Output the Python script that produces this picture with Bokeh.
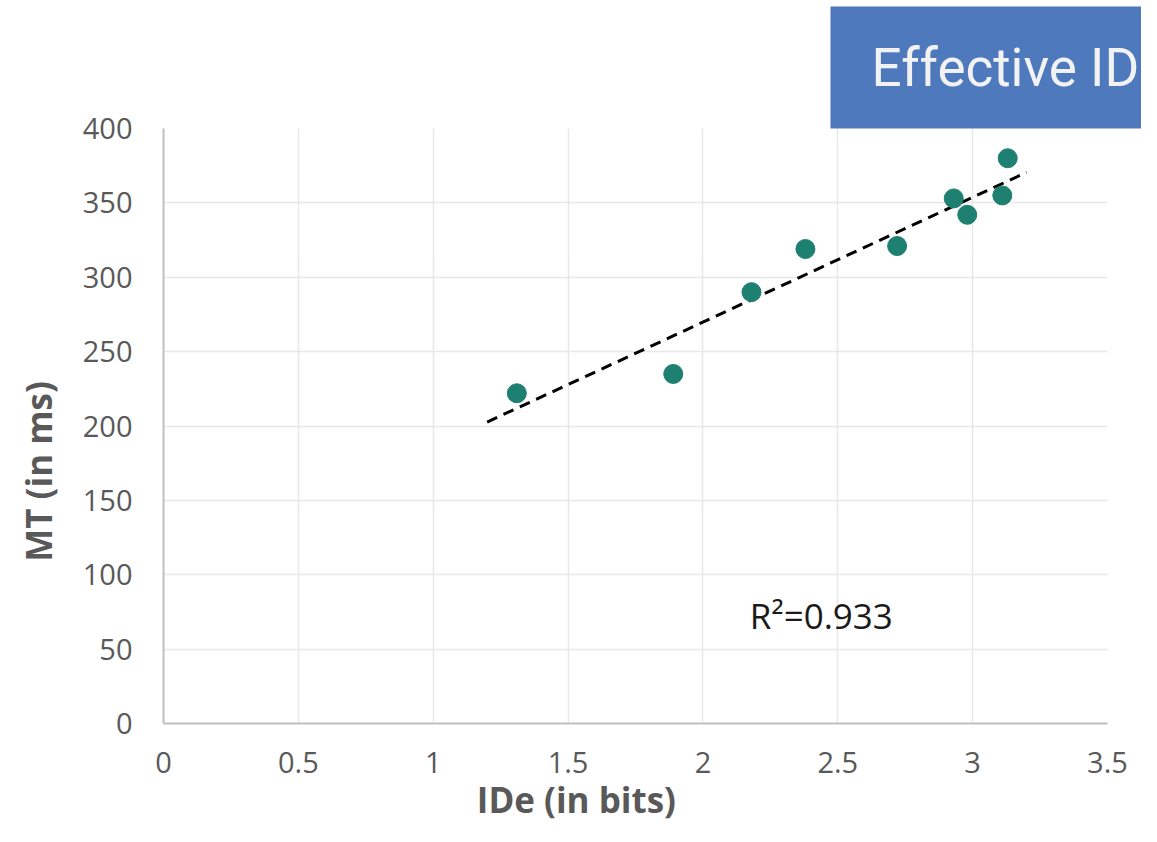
import numpy as np
from bokeh.plotting import figure
from bokeh.models import Range1d, Label, FixedTicker, Title
from bokeh.embed import file_html
from bokeh.resources import INLINE

# Data
ide_bits = [1.31, 1.89, 2.18, 2.38, 2.72, 2.93, 2.98, 3.11, 3.13]
mt_ms = [222, 235, 290, 319, 321, 353, 342, 355, 380]
trend_x = [1.2, 3.2]
x_ticks = [0, 0.5, 1, 1.5, 2, 2.5, 3, 3.5]
y_ticks = [0, 50, 100, 150, 200, 250, 300, 350, 400]
x_tick_labels = {0: "0", 0.5: "0.5", 1: "1", 1.5: "1.5", 2: "2", 2.5: "2.5", 3: "3", 3.5: "3.5"}
r2_text = "R\u00b2=0.933"
title_text = "Effective IDs"
x_title = "IDe (in bits)"
y_title = "MT (in ms)"

slope, intercept = np.polyfit(ide_bits, mt_ms, 1)
trend_y = [slope * v + intercept for v in trend_x]

FONT = "Open Sans"
GRAY = "#595959"
BLUE = "#4f79bd"
NB = "\u00a0"

p = figure(width=1141, height=826, output_backend="svg", toolbar_location=None,
           x_range=Range1d(0, 3.5), y_range=Range1d(0, 400),
           min_border_left=163, min_border_right=34, min_border_top=128,
           min_border_bottom=103)
p.outline_line_color = None
p.background_fill_color = "white"

p.xaxis.ticker = FixedTicker(ticks=x_ticks)
p.yaxis.ticker = FixedTicker(ticks=y_ticks)
p.xaxis.major_label_overrides = x_tick_labels
for ax in (p.xaxis, p.yaxis):
    ax.axis_line_color = "#bfbfbf"
    ax.axis_line_width = 2
    ax.major_tick_line_color = None
    ax.minor_tick_line_color = None
    ax.major_label_text_font = FONT
    ax.major_label_text_font_size = "29px"
    ax.major_label_text_color = GRAY
    ax.major_label_text_line_height = 1.0
    ax.axis_label_text_font = FONT
    ax.axis_label_text_font_size = "35px"
    ax.axis_label_text_font_style = "bold"
    ax.axis_label_text_color = GRAY
    ax.axis_label_text_line_height = 1.0
p.xaxis.major_label_standoff = 22
p.yaxis.major_label_standoff = 25
p.xaxis.axis_label = x_title + NB * 13
p.yaxis.axis_label = y_title + NB * 10
p.xaxis.axis_label_standoff = 0
p.yaxis.axis_label_standoff = 18

p.xgrid.ticker = FixedTicker(ticks=x_ticks)
p.ygrid.ticker = FixedTicker(ticks=y_ticks)
p.grid.grid_line_color = "#e8e8e8"
p.grid.grid_line_width = 1.5

p.line(trend_x, trend_y, line_color="black", line_width=3, line_dash="11 7")
p.scatter(ide_bits, mt_ms, size=19, fill_color="#1d8070", line_color="#1d8070")

p.add_layout(Label(x=2.174, y=72.5, text=r2_text, text_font=FONT, text_font_size="35px",
                   text_color="#1a1a1a", text_baseline="middle", text_align="left"))

# Blue header box
p.add_layout(Title(text=title_text, align="left", offset=667, text_font="Roboto",
                   text_font_size="53px", text_font_style="normal", text_color="#f2f2f2",
                   text_line_height=1.0, background_fill_color=BLUE, standoff=0,
                   padding=dict(left=41, right=400, top=30, bottom=30)), "above")

open("out.html", "w").write(file_html(p, INLINE))
